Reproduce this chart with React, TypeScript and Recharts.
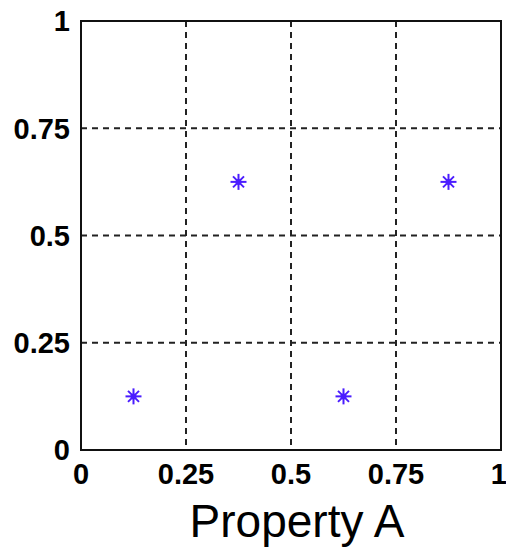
import { ScatterChart, Scatter, XAxis, YAxis, CartesianGrid, ReferenceArea } from "recharts";

const propertyA = [0.125, 0.375, 0.625, 0.875];
const propertyB = [0.125, 0.625, 0.125, 0.625];
const TICKS = [0, 0.25, 0.5, 0.75, 1];

const points = propertyA.map((x, i) => ({ x, y: propertyB[i] }));

const MARK = '#4a1cff';
const FONT = '"Liberation Sans", Arial, sans-serif';

// matlab-style "*" marker
function Star(props: any) {
  const { cx, cy } = props;
  const r = 8;
  const d = 5.5;
  return (
    <g stroke={MARK} strokeWidth={2}>
      <line x1={cx - r} y1={cy} x2={cx + r} y2={cy} />
      <line x1={cx} y1={cy - r} x2={cx} y2={cy + r} />
      <line x1={cx - d} y1={cy - d} x2={cx + d} y2={cy + d} />
      <line x1={cx - d} y1={cy + d} x2={cx + d} y2={cy - d} />
      <circle cx={cx} cy={cy} r={3} fill={MARK} stroke="none" />
    </g>
  );
}

export default function App() {
  return (
    <div style={{ position: 'absolute', left: 0, top: 0, background: '#fff' }}>
      <ScatterChart width={506} height={547} margin={{ top: 21, right: 5, left: 0, bottom: 0 }}>
        <CartesianGrid stroke="#222" strokeWidth={2} strokeDasharray="6 5" />
        <XAxis
          type="number"
          dataKey="x"
          domain={[0, 1]}
          ticks={TICKS}
          height={97}
          axisLine={false}
          tickLine={false}
          tickSize={0}
          tickMargin={13}
          tick={{ fill: '#000', fontSize: 29, fontWeight: 'bold', fontFamily: FONT }}
          label={{ value: 'Property A', position: 'insideBottom', offset: 10, dx: 6, fill: '#000', fontSize: 46, fontFamily: FONT }}
        />
        <YAxis
          type="number"
          dataKey="y"
          domain={[0, 1]}
          ticks={TICKS}
          width={81}
          axisLine={false}
          tickLine={false}
          tickSize={0}
          tickMargin={11}
          tick={{ fill: '#000', fontSize: 29, fontWeight: 'bold', fontFamily: FONT }}
        />
        <ReferenceArea x1={0} x2={1} y1={0} y2={1} fill="none" stroke="#111" strokeWidth={2} fillOpacity={0} />
        <Scatter data={points} shape={<Star />} isAnimationActive={false} />
      </ScatterChart>
    </div>
  );
}
